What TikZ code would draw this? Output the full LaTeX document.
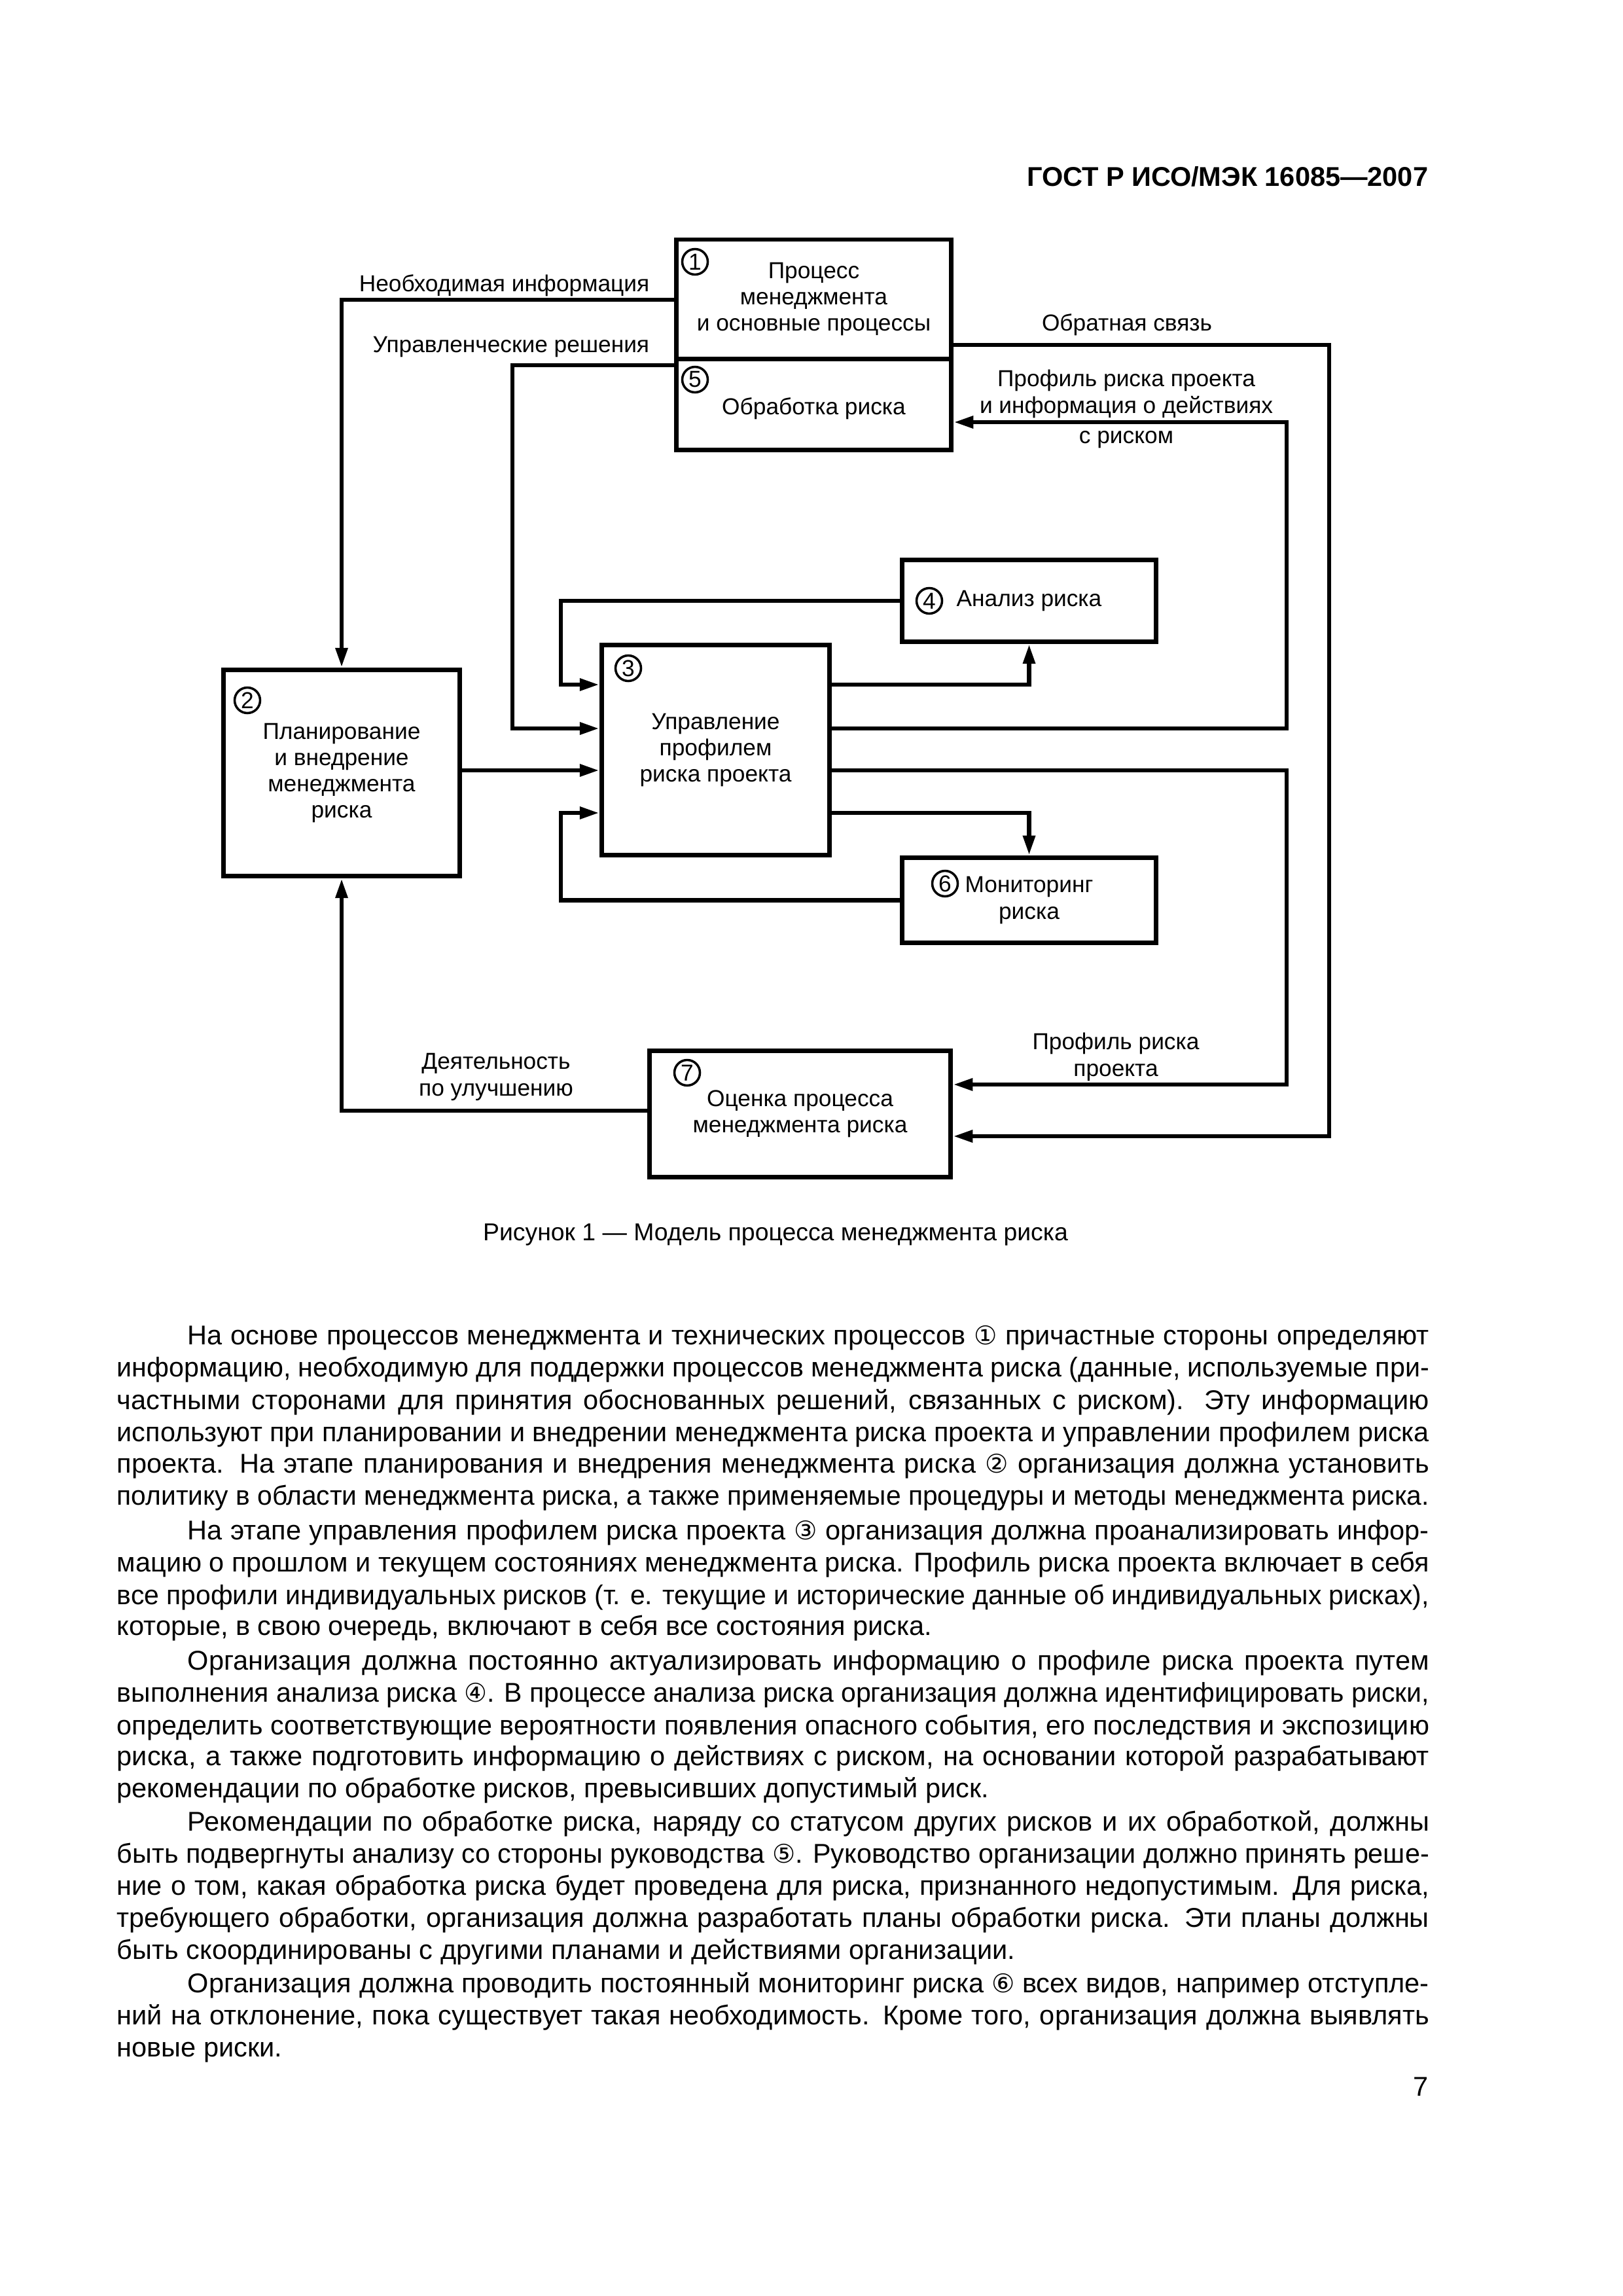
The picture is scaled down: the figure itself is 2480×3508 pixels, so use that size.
\documentclass[tikz,border=0pt]{standalone}
\usepackage{fontspec}
\setmainfont{Liberation Sans}
\newfontfamily\dv{DejaVu Sans}
\usepackage{graphicx}
\usetikzlibrary{arrows.meta}
\newlength\pxu \setlength\pxu{0.084667mm}
\newlength\tmpw
\newcommand\jl[2]{\settowidth\tmpw{#2}\ifdim\tmpw>#1\pxu\relax\resizebox{#1\pxu}{\height}{#2}\else\makebox[#1\pxu][s]{#2}\fi}
\newcommand\cn[1]{{\dv\fontsize{9.5}{12}\selectfont #1}}
\begin{document}
\begin{tikzpicture}[x=0.084667mm, y=-0.084667mm,
  box/.style={draw, line width=0.58mm, inner sep=0pt, align=center, font=\fontsize{8.5}{9.7}\selectfont},
  lbl/.style={inner sep=0pt, font=\fontsize{8.5}{9.7}\selectfont},
  cnum/.style={circle, draw, line width=0.3mm, inner sep=0pt, minimum size=3.3mm, font=\fontsize{8.5}{8.5}\selectfont},
  wire/.style={draw, line width=0.58mm, line join=miter},
  arr/.style={wire, -{Triangle[length=2.55mm, width=1.5mm]}},
  bodyt/.style={inner sep=0pt, anchor=base west, font=\fontsize{10}{12}\selectfont}]
\fill[white] (0,0) rectangle (2480,3508);
\useasboundingbox (0,0) rectangle (2480,3508);

% header
\node[inner sep=0pt, anchor=base east, font=\bfseries\fontsize{10}{12}\selectfont] (hdr) at (2183,284) {ГОСТ Р ИСО/МЭК 16085—2007};

% boxes
\node[box, minimum width=35.6mm, minimum height=15.4mm] (b1) at (1243.5,457) {Процесс\\менеджмента\\и основные процессы};
\node[box, minimum width=35.6mm, minimum height=11.8mm] (b5) at (1243.5,618) {\rule{0pt}{3.3mm}Обработка риска};
\node[box, minimum width=30.6mm, minimum height=26.7mm] (b2) at (522,1181) {Планирование\\и внедрение\\менеджмента\\риска};
\node[box, minimum width=29.5mm, minimum height=27.2mm] (b3) at (1093.5,1146) {Управление\\профилем\\риска проекта};
\node[box, minimum width=32.9mm, minimum height=10.6mm] (b4) at (1572.5,918) {Анализ риска};
\node[box, minimum width=32.9mm, minimum height=11.05mm] (b6) at (1572.5,1375.5) {Мониторинг\\риска};
\node[box, minimum width=39mm, minimum height=16.4mm] (b7) at (1222.5,1702) {Оценка процесса\\менеджмента риска};

% circled numbers
\node[cnum] (n1) at (1062,400) {1};
\node[cnum] (n5) at (1062,580) {5};
\node[cnum] (n2) at (378,1070) {2};
\node[cnum] (n3) at (960,1021) {3};
\node[cnum] (n4) at (1420,918) {4};
\node[cnum] (n6) at (1444,1350) {6};
\node[cnum] (n7) at (1050,1639) {7};

% routing coordinates
\coordinate (yNeed) at (0,458);
\coordinate (yDec) at (0,558);
\coordinate (yFb) at (0,527);
\coordinate (yA) at (0,645);
\coordinate (yB) at (0,1046);
\coordinate (yC) at (0,1113);
\coordinate (yD) at (0,1177);
\coordinate (yE) at (0,1242);
\coordinate (yF) at (0,1657);
\coordinate (yG) at (0,1736);
\coordinate (yH) at (0,1697);
\coordinate (xB) at (783,0);
\coordinate (xC) at (857,0);
\coordinate (xE) at (1966,0);
\coordinate (xF) at (2031,0);

% connectors
\draw[arr] (b1.west |- yNeed) -| (b2.north);
\draw[arr] (b5.west |- yDec) -| (xB |- yC) -- (b3.west |- yC);
\draw[arr] (b2.east |- yD) -- (b3.west |- yD);
\draw[arr] (b4.west) -| (xC |- yB) -- (b3.west |- yB);
\draw[arr] (b6.west) -| (xC |- yE) -- (b3.west |- yE);
\draw[arr] (b3.east |- yB) -| (b4.south);
\draw[arr] (b3.east |- yE) -| (b6.north);
\draw[arr] (b3.east |- yC) -| (xE |- yA) -- (b5.east |- yA);
\draw[arr] (b3.east |- yD) -| (xE |- yF) -- (b7.east |- yF);
\draw[arr] (b1.east |- yFb) -| (xF |- yG) -- (b7.east |- yG);
\draw[arr] (b7.west |- yH) -| (b2.south);

% labels (base anchor = last line)
\node[lbl, anchor=base east] (lNeed) at (993,445) {Необходимая информация};
\node[lbl, anchor=base east] (lDec) at (993,538) {Управленческие решения};
\node[lbl, anchor=base] (lFb) at (1722,505) {Обратная связь};
\node[lbl, anchor=base, align=center] (lProf) at (1721,677) {Профиль риска проекта\\и информация о действиях\\[0.47mm]с риском};
\node[lbl, anchor=base, align=center] (lImp) at (758,1674) {Деятельность\\по улучшению};
\node[lbl, anchor=base, align=center] (lProf2) at (1705,1644) {Профиль риска\\проекта};

% caption
\node[inner sep=0pt, anchor=base, font=\fontsize{9}{11}\selectfont] (cap) at (1185,1895) {Рисунок 1 — Модель процесса менеджмента риска};

% body text
\node[bodyt] (p1a) at (286,2054) {\jl{1897}{На основе процессов менеджмента и технических процессов \cn{①} причастные стороны определяют}};
\node[bodyt] (p1b) at (178,2103) {\jl{2005}{информацию, необходимую для поддержки процессов менеджмента риска (данные, используемые при-}};
\node[bodyt] (p1c) at (178,2153) {\jl{2005}{частными сторонами для принятия обоснованных решений, связанных с риском). Эту информацию}};
\node[bodyt] (p1d) at (178,2202) {\jl{2005}{используют при планировании и внедрении менеджмента риска проекта и управлении профилем риска}};
\node[bodyt] (p1e) at (178,2250) {\jl{2005}{проекта. На этапе планирования и внедрения менеджмента риска \cn{②} организация должна установить}};
\node[bodyt] (p1f) at (178,2299) {\jl{2005}{политику в области менеджмента риска, а также применяемые процедуры и методы менеджмента риска.}};

\node[bodyt] (p2a) at (286,2352) {\jl{1897}{На этапе управления профилем риска проекта \cn{③} организация должна проанализировать инфор-}};
\node[bodyt] (p2b) at (178,2401) {\jl{2005}{мацию о прошлом и текущем состояниях менеджмента риска. Профиль риска проекта включает в себя}};
\node[bodyt] (p2c) at (178,2451) {\jl{2005}{все профили индивидуальных рисков (т. е. текущие и исторические данные об индивидуальных рисках),}};
\node[bodyt] (p2d) at (178,2498) {которые, в свою очередь, включают в себя все состояния риска.};

\node[bodyt] (p3a) at (286,2551) {\jl{1897}{Организация должна постоянно актуализировать информацию о профиле риска проекта путем}};
\node[bodyt] (p3b) at (178,2600) {\jl{2005}{выполнения анализа риска \cn{④}. В процессе анализа риска организация должна идентифицировать риски,}};
\node[bodyt] (p3c) at (178,2650) {\jl{2005}{определить соответствующие вероятности появления опасного события, его последствия и экспозицию}};
\node[bodyt] (p3d) at (178,2697) {\jl{2005}{риска, а также подготовить информацию о действиях с риском, на основании которой разрабатывают}};
\node[bodyt] (p3e) at (178,2746) {рекомендации по обработке рисков, превысивших допустимый риск.};

\node[bodyt] (p4a) at (286,2797) {\jl{1897}{Рекомендации по обработке риска, наряду со статусом других рисков и их обработкой, должны}};
\node[bodyt] (p4b) at (178,2846) {\jl{2005}{быть подвергнуты анализу со стороны руководства \cn{⑤}. Руководство организации должно принять реше-}};
\node[bodyt] (p4c) at (178,2895) {\jl{2005}{ние о том, какая обработка риска будет проведена для риска, признанного недопустимым. Для риска,}};
\node[bodyt] (p4d) at (178,2944) {\jl{2005}{требующего обработки, организация должна разработать планы обработки риска. Эти планы должны}};
\node[bodyt] (p4e) at (178,2993) {быть скоординированы с другими планами и действиями организации.};

\node[bodyt] (p5a) at (286,3044) {\jl{1897}{Организация должна проводить постоянный мониторинг риска \cn{⑥} всех видов, например отступле-}};
\node[bodyt] (p5b) at (178,3093) {\jl{2005}{ний на отклонение, пока существует такая необходимость. Кроме того, организация должна выявлять}};
\node[bodyt] (p5c) at (178,3142) {новые риски.};

% page number
\node[inner sep=0pt, anchor=base east, font=\fontsize{10}{12}\selectfont] (pg) at (2183,3202) {7};
\end{tikzpicture}
\end{document}
